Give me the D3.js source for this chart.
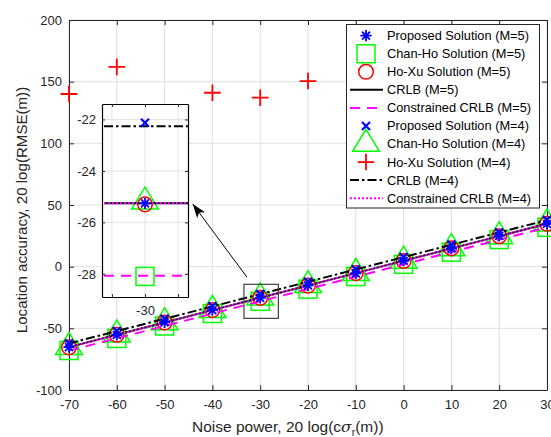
<!DOCTYPE html>
<html>
<head>
<meta charset="utf-8">
<script src="https://cdn.jsdelivr.net/npm/d3@7"></script>
<style>
  body { margin: 0; background: #fff; }
  svg { display: block; font-family: "Liberation Sans", Arial, Helvetica, sans-serif; }
</style>
</head>
<body>
<svg id="chart" width="551" height="437"></svg>
<script>
// ---------------------------------------------------------------------------
// data (dB values)
// ---------------------------------------------------------------------------
const noisePower = [-70, -60, -50, -40, -30, -20, -10, 0, 10, 20, 30];

const proposedM5 = [-65.2, -55.4, -45.1, -35.3, -25.26, -15.2, -5.4, 4.8, 14.6, 24.9, 34.6];
const chanHoM5 = [-68.0, -58.2, -48.1, -38.0, -28.1, -18.2, -8.0, 1.9, 11.8, 22.0, 31.9];
const hoXuM5 = [-65.4, -55.2, -45.3, -35.2, -25.3, -15.4, -5.2, 4.6, 14.8, 24.7, 34.8];
const crlbM5 = [-65.26, -55.26, -45.26, -35.26, -25.26, -15.26, -5.26, 4.74, 14.74, 24.74, 34.74];
const cCrlbM5 = [-68.07, -58.07, -48.07, -38.07, -28.07, -18.07, -8.07, 1.93, 11.93, 21.93, 31.93];

const proposedM4 = [-62.2, -52.1, -42.3, -32.1, -22.13, -12.2, -2.1, 7.8, 17.9, 27.8, 37.9];
const chanHoM4 = [-65.2, -55.1, -45.2, -35.3, -25.2, -15.1, -5.3, 4.7, 14.8, 24.6, 34.8];
// Ho-Xu (M=4) diverges; points above 200 dB fall outside the plot
const hoXuM4 = [140, 162, null, 141, 137, 150.5, null, null, null, null, null];
const crlbM4 = [-62.26, -52.26, -42.26, -32.26, -22.26, -12.26, -2.26, 7.74, 17.74, 27.74, 37.74];
const cCrlbM4 = [-65.26, -55.26, -45.26, -35.26, -25.26, -15.26, -5.26, 4.74, 14.74, 24.74, 34.74];

const xTicks = [-70, -60, -50, -40, -30, -20, -10, 0, 10, 20, 30];
const yTicks = [-100, -50, 0, 50, 100, 150, 200];
const insetXTicks = [-31, -30, -29];
const insetYTicks = [-28, -26, -24, -22];
const zoomX = -30; // the abscissa shown magnified in the inset

const legendLabels = [
  'Proposed Solution (M=5)', 'Chan-Ho Solution (M=5)', 'Ho-Xu Solution (M=5)',
  'CRLB (M=5)', 'Constrained CRLB (M=5)', 'Proposed Solution (M=4)',
  'Chan-Ho Solution (M=4)', 'Ho-Xu Solution (M=4)', 'CRLB (M=4)', 'Constrained CRLB (M=4)',
];

// ---------------------------------------------------------------------------
// styles for every series
// ---------------------------------------------------------------------------
const BLUE = '#0000ff', GREEN = '#00ff00', RED = '#ff0000', MAGENTA = '#ff00ff', INK = '#262626';
const TICK_FONT = '13px';
const fmt = d => String(d); // plain hyphen minus, as in the figure

const markerSeries = [
  { values: chanHoM5, marker: 'square', color: GREEN, legend: 1 },
  { values: chanHoM4, marker: 'triangle', color: GREEN, legend: 6 },
  { values: hoXuM5, marker: 'circle', color: RED, legend: 2 },
  { values: proposedM5, marker: 'asterisk', color: BLUE, legend: 0 },
  { values: proposedM4, marker: 'cross', color: BLUE, legend: 5 },
  { values: hoXuM4, marker: 'plus', color: RED, legend: 7 },
];
const lineSeries = [
  { values: crlbM5, color: '#000', dash: null, legend: 3 },
  { values: cCrlbM5, color: MAGENTA, dash: '10,7', legend: 4 },
  { values: crlbM4, color: '#000', dash: '9,3,2.5,3', legend: 8 },
  { values: cCrlbM4, color: MAGENTA, dash: '2,2', legend: 9 },
];

function drawMarker(g, type, cx, cy, color) {
  const m = g.append('g').attr('transform', `translate(${cx},${cy})`)
    .attr('fill', 'none').attr('stroke', color);
  if (type === 'square') {
    m.append('rect').attr('x', -9).attr('y', -9).attr('width', 18).attr('height', 18)
      .attr('stroke-width', 1.5);
  } else if (type === 'triangle') {
    m.append('path').attr('d', 'M0,-14.7 L13.4,7.3 L-13.4,7.3 Z').attr('stroke-width', 1.5);
  } else if (type === 'circle') {
    m.append('circle').attr('r', 7.3).attr('stroke-width', 1.5);
  } else if (type === 'asterisk') {
    const r = 5.6, d = r * 0.707;
    m.append('path').attr('stroke-width', 1.8)
      .attr('d', `M0,${-r}V${r}M${-r},0H${r}M${-d},${-d}L${d},${d}M${-d},${d}L${d},${-d}`);
  } else if (type === 'cross') {
    const r = 4;
    m.append('path').attr('stroke-width', 2.2)
      .attr('d', `M${-r},${-r}L${r},${r}M${-r},${r}L${r},${-r}`);
  } else if (type === 'plus') {
    const r = 8.3;
    m.append('path').attr('stroke-width', 1.8).attr('d', `M0,${-r}V${r}M${-r},0H${r}`);
  }
}

// ---------------------------------------------------------------------------
// main axes
// ---------------------------------------------------------------------------
const svg = d3.select('#chart');
const plot = { left: 69, top: 20, right: 547, bottom: 390 };

const x = d3.scaleLinear().domain([-70, 30]).range([plot.left, plot.right]);
const y = d3.scaleLinear().domain([-100, 200]).range([plot.bottom, plot.top]);

svg.append('rect').attr('width', 551).attr('height', 437).attr('fill', '#fff');

function styleAxis(g) {
  g.select('.domain').attr('stroke', INK);
  g.selectAll('.tick line').attr('stroke', INK);
  g.selectAll('.tick text').attr('fill', INK).style('font-size', TICK_FONT)
    .style('font-family', '"Liberation Sans", Arial, sans-serif');
}

// grid
svg.append('g').selectAll('line').data(xTicks).join('line')
  .attr('x1', d => x(d)).attr('x2', d => x(d)).attr('y1', plot.top).attr('y2', plot.bottom)
  .attr('stroke', '#dfdfdf').attr('stroke-width', 1);
svg.append('g').selectAll('line').data(yTicks).join('line')
  .attr('x1', plot.left).attr('x2', plot.right).attr('y1', d => y(d)).attr('y2', d => y(d))
  .attr('stroke', '#dfdfdf').attr('stroke-width', 1);

svg.append('g').attr('transform', `translate(0,${plot.bottom})`)
  .call(d3.axisBottom(x).tickValues(xTicks).tickFormat(fmt).tickSize(-5).tickPadding(10).tickSizeOuter(0))
  .call(styleAxis);
svg.append('g').attr('transform', `translate(0,${plot.top})`)
  .call(d3.axisTop(x).tickValues(xTicks).tickSize(-5).tickFormat('').tickSizeOuter(0))
  .call(styleAxis);
svg.append('g').attr('transform', `translate(${plot.left},0)`)
  .call(d3.axisLeft(y).tickValues(yTicks).tickFormat(fmt).tickSize(-5).tickPadding(7).tickSizeOuter(0))
  .call(styleAxis);
svg.append('g').attr('transform', `translate(${plot.right},0)`)
  .call(d3.axisRight(y).tickValues(yTicks).tickSize(-5).tickFormat('').tickSizeOuter(0))
  .call(styleAxis);

// series: markers under lines, then blue/red glyphs on top
const lineGen = d3.line().x((d, i) => x(noisePower[i])).y(d => y(d));
const mainMarks = svg.append('g');
markerSeries.slice(0, 3).forEach(s => s.values.forEach((v, i) => {
  if (v !== null) drawMarker(mainMarks, s.marker, x(noisePower[i]), y(v), s.color);
}));
lineSeries.forEach(s => {
  mainMarks.append('path').datum(s.values).attr('d', lineGen)
    .attr('fill', 'none').attr('stroke', s.color).attr('stroke-width', 2)
    .attr('stroke-dasharray', s.dash);
});
markerSeries.slice(3).forEach(s => s.values.forEach((v, i) => {
  if (v !== null) drawMarker(mainMarks, s.marker, x(noisePower[i]), y(v), s.color);
}));

// zoom box and arrow
const zoomBox = { x0: -33.4, x1: -26.2, y0: -41.9, y1: -14.3 };
svg.append('rect')
  .attr('x', x(zoomBox.x0)).attr('y', y(zoomBox.y1))
  .attr('width', x(zoomBox.x1) - x(zoomBox.x0)).attr('height', y(zoomBox.y0) - y(zoomBox.y1))
  .attr('fill', 'none').attr('stroke', '#404040').attr('stroke-width', 1.2);

// ---------------------------------------------------------------------------
// inset axes
// ---------------------------------------------------------------------------
const inset = { left: 102, top: 104, right: 188, bottom: 297 };
const ix = d3.scaleLinear().domain([-31.3, -28.7]).range([inset.left, inset.right]);
const iy = d3.scaleLinear().domain([-28.9, -21.4]).range([inset.bottom, inset.top]);
const ig = svg.append('g');
ig.append('rect').attr('x', inset.left).attr('y', inset.top)
  .attr('width', inset.right - inset.left).attr('height', inset.bottom - inset.top).attr('fill', '#fff');
ig.append('g').selectAll('line').data(insetXTicks).join('line')
  .attr('x1', d => ix(d)).attr('x2', d => ix(d)).attr('y1', inset.top).attr('y2', inset.bottom)
  .attr('stroke', '#e4e4e4');
ig.append('g').selectAll('line').data(insetYTicks).join('line')
  .attr('x1', inset.left).attr('x2', inset.right).attr('y1', d => iy(d)).attr('y2', d => iy(d))
  .attr('stroke', '#e4e4e4');

const k = noisePower.indexOf(zoomX);
svg.append('clipPath').attr('id', 'insetClip').append('rect')
  .attr('x', inset.left).attr('y', inset.top)
  .attr('width', inset.right - inset.left).attr('height', inset.bottom - inset.top);
const insetMarks = ig.append('g');
markerSeries.slice(0, 3).forEach(s => drawMarker(insetMarks, s.marker, ix(zoomX), iy(s.values[k]), s.color));
lineSeries.forEach(s => {
  insetMarks.append('line').attr('clip-path', 'url(#insetClip)')
    .attr('x1', inset.left + 2).attr('x2', inset.right)
    .attr('y1', iy(s.values[k])).attr('y2', iy(s.values[k]))
    .attr('stroke', s.color).attr('stroke-width', 2).attr('stroke-dasharray', s.dash);
});
markerSeries.slice(3).forEach(s => {
  const v = s.values[k];
  if (v >= -28.9 && v <= -21.4) drawMarker(insetMarks, s.marker, ix(zoomX), iy(v), s.color);
});

ig.append('g').attr('transform', `translate(0,${inset.bottom})`)
  .call(d3.axisBottom(ix).tickValues(insetXTicks).tickSize(-3).tickPadding(9).tickSizeOuter(0)
    .tickFormat(d => d === zoomX ? fmt(d) : ''))
  .call(styleAxis);
ig.append('g').attr('transform', `translate(0,${inset.top})`)
  .call(d3.axisTop(ix).tickValues(insetXTicks).tickSize(-3).tickFormat('').tickSizeOuter(0))
  .call(styleAxis);
ig.append('g').attr('transform', `translate(${inset.left},0)`)
  .call(d3.axisLeft(iy).tickValues(insetYTicks).tickFormat(fmt).tickSize(-3).tickPadding(6).tickSizeOuter(0))
  .call(styleAxis);
ig.append('g').attr('transform', `translate(${inset.right},0)`)
  .call(d3.axisRight(iy).tickValues(insetYTicks).tickSize(-3).tickFormat('').tickSizeOuter(0))
  .call(styleAxis);
ig.selectAll('.domain').attr('stroke', '#000').attr('stroke-width', 1.2);

// arrow from zoom box to inset
svg.append('defs').append('marker').attr('id', 'arrowHead')
  .attr('viewBox', '0 0 14 10').attr('refX', 14).attr('refY', 5)
  .attr('markerWidth', 14).attr('markerHeight', 10).attr('markerUnits', 'userSpaceOnUse')
  .attr('orient', 'auto')
  .append('path').attr('d', 'M0,0 L14,5 L0,10 L3.5,5 Z').attr('fill', '#000');
svg.append('line')
  .attr('x1', x(-32.8)).attr('y1', y(-8.4)).attr('x2', x(-44.1)).attr('y2', y(50.8))
  .attr('stroke', '#000').attr('stroke-width', 1).attr('marker-end', 'url(#arrowHead)');

// ---------------------------------------------------------------------------
// axis labels
// ---------------------------------------------------------------------------
svg.append('text').attr('x', 192).attr('y', 432).attr('fill', INK).style('font-size', '15.5px')
  .call(t => {
    t.append('tspan').text('Noise power, 20 log(c');
    t.append('tspan').text('σ').style('font-style', 'italic').style('font-family', '"DejaVu Serif", serif');
    t.append('tspan').text('r').attr('dy', 4).style('font-size', '10.5px');
    t.append('tspan').text('(m))').attr('dy', -4);
  });
svg.append('text').attr('transform', 'translate(27,210) rotate(-90)')
  .attr('text-anchor', 'middle').attr('fill', INK).style('font-size', '15.1px')
  .text('Location accuracy, 20 log(RMSE(m))');

// ---------------------------------------------------------------------------
// legend
// ---------------------------------------------------------------------------
const legend = svg.append('g');
legend.append('rect').attr('x', 346.5).attr('y', 24.5).attr('width', 193).attr('height', 183.5)
  .attr('fill', '#fff').attr('stroke', INK).attr('stroke-width', 1);
const rowY = i => 35.7 + i * 18.05;
markerSeries.forEach(s => drawMarker(legend, s.marker, 366, rowY(s.legend), s.color));
lineSeries.forEach(s => {
  legend.append('line').attr('x1', 350).attr('x2', 383)
    .attr('y1', rowY(s.legend)).attr('y2', rowY(s.legend))
    .attr('stroke', s.color).attr('stroke-width', 2).attr('stroke-dasharray', s.dash);
});
legend.selectAll('text.lbl').data(legendLabels).join('text').attr('class', 'lbl')
  .attr('x', 387).attr('y', (d, i) => rowY(i)).attr('dy', '0.35em')
  .attr('fill', '#000').style('font-size', '12.8px').text(d => d);
</script>
</body>
</html>
